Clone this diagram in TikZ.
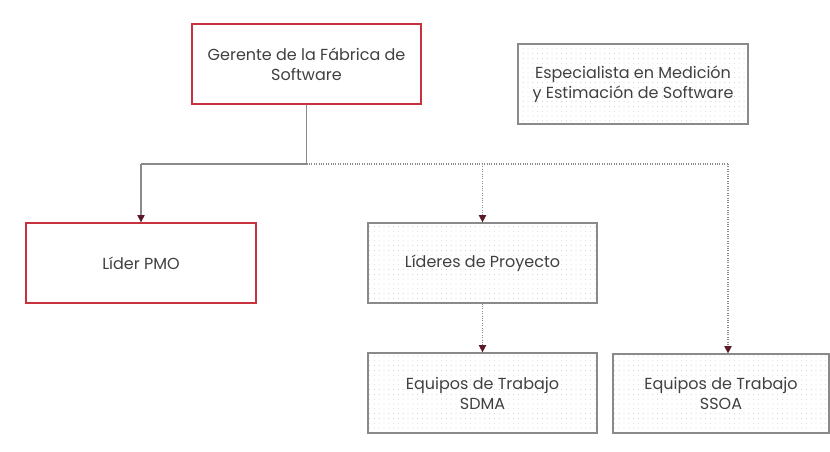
\documentclass[tikz,border=0pt]{standalone}
\usepackage{fontspec}
\setmainfont{Poppins}
\usetikzlibrary{arrows.meta,patterns.meta}
\definecolor{boxred}{HTML}{C8323F}
\definecolor{tipred}{HTML}{5A1A28}
\definecolor{linegray}{HTML}{8A8A8A}
\definecolor{txtgray}{HTML}{404040}
\tikzset{
  base/.style={rectangle, align=center, font=\fontsize{12}{15}\selectfont, text=txtgray, inner sep=0pt},
  redbox/.style={base, draw=boxred, line width=1pt, fill=white},
  dotbox/.style={base, draw=linegray, line width=0.9pt, pattern={Dots[distance=3.6pt,radius=0.35pt]}, pattern color=gray!45},
  conn/.style={draw=linegray, line width=0.8pt},
  dconn/.style={conn, densely dotted},
  tip/.style={-{Triangle[length=5.5pt,width=5.5pt,color=tipred]}}
}
\begin{document}
\begin{tikzpicture}[x=0.75pt,y=-0.75pt]
\useasboundingbox (0,0) rectangle (830,452);
\node[redbox, minimum width=229*0.75pt, minimum height=80*0.75pt] (ger) at (306.5,64) {Gerente de la Fábrica de\\Software};
\node[dotbox, minimum width=230*0.75pt, minimum height=80*0.75pt] (esp) at (633,84) {Especialista en Medición\\y Estimación de Software};
\node[redbox, minimum width=230*0.75pt, minimum height=80*0.75pt] (pmo) at (141,263) {Líder PMO};
\node[dotbox, minimum width=229*0.75pt, minimum height=80*0.75pt] (lid) at (482.5,263) {Líderes de Proyecto};
\node[dotbox, minimum width=229*0.75pt, minimum height=80*0.75pt] (sdma) at (482.5,393) {Equipos de Trabajo\\SDMA};
\node[dotbox, minimum width=216*0.75pt, minimum height=79*0.75pt] (ssoa) at (721,393.5) {Equipos de Trabajo\\SSOA};
\coordinate (j) at (306.5,164);
\coordinate (jl) at (141,164);
\coordinate (jm) at (482.5,164);
\coordinate (jr) at (728,164);
\draw[conn] (ger.south) -- (j) -- (jl);
\draw[conn,tip] (jl) -- (pmo.north);
\draw[dconn] (j) -- (jr);
\draw[dconn,tip] (jm) -- (lid.north);
\draw[dconn,tip] (jr) -- (jr |- ssoa.north);
\draw[dconn,tip] (lid.south) -- (sdma.north);
\end{tikzpicture}
\end{document}
